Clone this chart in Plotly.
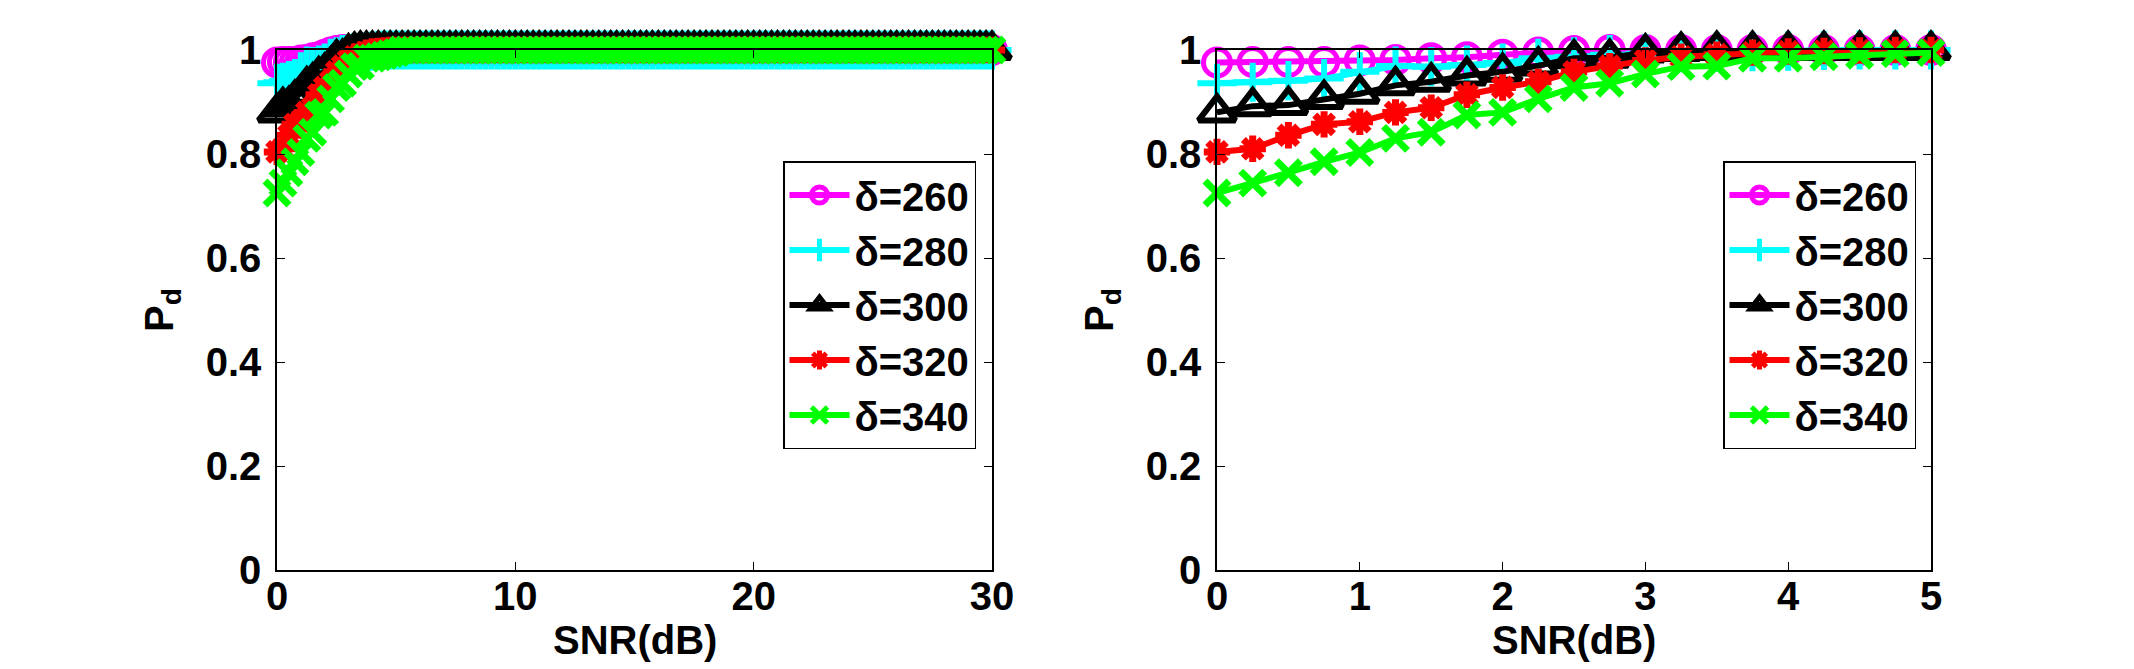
import numpy as np
import plotly.graph_objects as go

# ---------------- data ----------------
snr_right = [0, 0.25, 0.5, 0.75, 1, 1.25, 1.5, 1.75, 2, 2.25, 2.5, 2.75, 3,
             3.25, 3.5, 3.75, 4, 4.25, 4.5, 4.75, 5]
labels = ["δ=260", "δ=280", "δ=300", "δ=320", "δ=340"]

pd260 = [0.976, 0.977, 0.977, 0.977, 0.980, 0.981, 0.984, 0.986, 0.991, 0.995, 0.998,
         1.0, 1.0, 1.0, 1.0, 1.0, 1.0, 1.0, 1.0, 1.0, 1.0]
pd280 = [0.936, 0.938, 0.941, 0.945, 0.958, 0.969, 0.968, 0.971, 0.975, 0.984, 0.987,
         0.991, 0.993, 0.995, 0.996, 0.997, 0.998, 0.999, 1.0, 1.0, 1.0]
pd300 = [0.880, 0.892, 0.894, 0.906, 0.916, 0.932, 0.939, 0.951, 0.958, 0.970, 0.984,
         0.985, 0.995, 0.998, 1.0, 1.0, 1.0, 1.0, 1.0, 1.0, 1.0]
pd320 = [0.804, 0.810, 0.836, 0.857, 0.862, 0.880, 0.889, 0.914, 0.928, 0.939, 0.958,
         0.969, 0.980, 0.987, 0.991, 0.995, 0.997, 0.998, 0.999, 1.0, 1.0]
pd340 = [0.725, 0.744, 0.764, 0.785, 0.803, 0.830, 0.842, 0.875, 0.880, 0.906, 0.928,
         0.936, 0.954, 0.968, 0.969, 0.984, 0.984, 0.987, 0.990, 0.993, 0.995]

# left panel: same curves, then flat at 1.0 from 5.25 dB to 30 dB (read: plateau)
snr_left_tail = [5 + 0.25 * k for k in range(1, 101)]
plateau = [1.0] * 100

x_ticks_left = [0, 10, 20, 30]
x_ticks_right = [0, 1, 2, 3, 4, 5]
y_ticks = [0, 0.2, 0.4, 0.6, 0.8, 1]
y_tick_text = ["0", "0.2", "0.4", "0.6", "0.8", "1"]
x_title = "SNR(dB)"
y_title = "P<sub>d</sub>"

series = [pd260, pd280, pd300, pd320, pd340]

# ---------------- styles ----------------
colors = ["#ff00ff", "#00ffff", "#000000", "#ff0000", "#00ff00"]
symbols = ["circle-open", "cross-thin-open", "triangle-up-open", "asterisk-open", "x-thin-open"]
msizes = [27, 28, 32, 22, 24]
mlw = [5, 6, 6, 7, 7]

W, H = 2134, 669
FONT = "Liberation Sans, Arial, Helvetica, sans-serif"

fig = go.Figure()

for i, (lab, ys) in enumerate(zip(labels, series)):
    xl = snr_right + snr_left_tail
    yl = ys + plateau
    fig.add_trace(go.Scatter(
        x=xl, y=yl, mode="lines+markers", name=lab,
        xaxis="x", yaxis="y", legend="legend",
        line=dict(color=colors[i], width=6),
        marker=dict(symbol=symbols[i], size=msizes[i], color=colors[i],
                    line=dict(color=colors[i], width=mlw[i])),
        cliponaxis=False,
    ))
for i, (lab, ys) in enumerate(zip(labels, series)):
    fig.add_trace(go.Scatter(
        x=snr_right, y=ys, mode="lines+markers", name=lab,
        xaxis="x2", yaxis="y2", legend="legend2",
        line=dict(color=colors[i], width=6),
        marker=dict(symbol=symbols[i], size=msizes[i], color=colors[i],
                    line=dict(color=colors[i], width=mlw[i])),
        cliponaxis=False,
    ))

x0L, x1L = 277 / W, 992 / W
x0R, x1R = 1217 / W, 1931 / W
y0, y1 = (H - 570) / H, (H - 50) / H

tickfont = dict(family=FONT, size=40, color="black", weight="bold")
titlefont = dict(family=FONT, size=40, color="black", weight="bold")

def xax(dom, rng, ticks, anchor):
    return dict(domain=dom, range=rng, tickvals=ticks, ticktext=[str(t) for t in ticks],
                showgrid=False, zeroline=False, showline=True, linecolor="black",
                linewidth=1.5, mirror="ticks", ticks="inside", ticklen=8,
                tickcolor="black", tickwidth=1, tickfont=tickfont,
                ticklabelstandoff=-10, automargin=False,
                anchor=anchor)

def yax(dom, anchor):
    return dict(domain=dom, range=[0, 1], tickvals=y_ticks, ticktext=y_tick_text,
                showgrid=False, zeroline=False, showline=True, linecolor="black",
                linewidth=1.5, mirror="ticks", ticks="inside", ticklen=8,
                tickcolor="black", tickwidth=1, tickfont=tickfont,
                ticklabelstandoff=6, automargin=False,
                title=dict(text=y_title, font=titlefont, standoff=20),
                anchor=anchor)

annotations = []
for (a, b) in [(x0L, x1L), (x0R, x1R)]:
    annotations.append(dict(text=x_title, x=(a + b) / 2, y=(H - 640) / H,
                            xref="paper", yref="paper", xanchor="center", yanchor="middle",
                            showarrow=False, font=titlefont))

legfont = dict(family=FONT, size=40, color="black", weight="bold")
fig.update_layout(
    width=W, height=H,
    margin=dict(l=0, r=0, t=0, b=0, autoexpand=False),
    paper_bgcolor="white", plot_bgcolor="white",
    xaxis=xax([x0L, x1L], [0, 30], x_ticks_left, "y"),
    yaxis=yax([y0, y1], "x"),
    xaxis2=xax([x0R, x1R], [0, 5], x_ticks_right, "y2"),
    yaxis2=yax([y0, y1], "x2"),
    annotations=annotations,
    legend=dict(x=976 / W, y=(H - 161) / H, xanchor="right", yanchor="top",
                bgcolor="white", bordercolor="black", borderwidth=1.5,
                font=legfont, itemwidth=60, tracegroupgap=0),
    legend2=dict(x=1916 / W, y=(H - 161) / H, xanchor="right", yanchor="top",
                 bgcolor="white", bordercolor="black", borderwidth=1.5,
                 font=legfont, itemwidth=60, tracegroupgap=0),
    showlegend=True,
)

fig.write_html("out.html")
